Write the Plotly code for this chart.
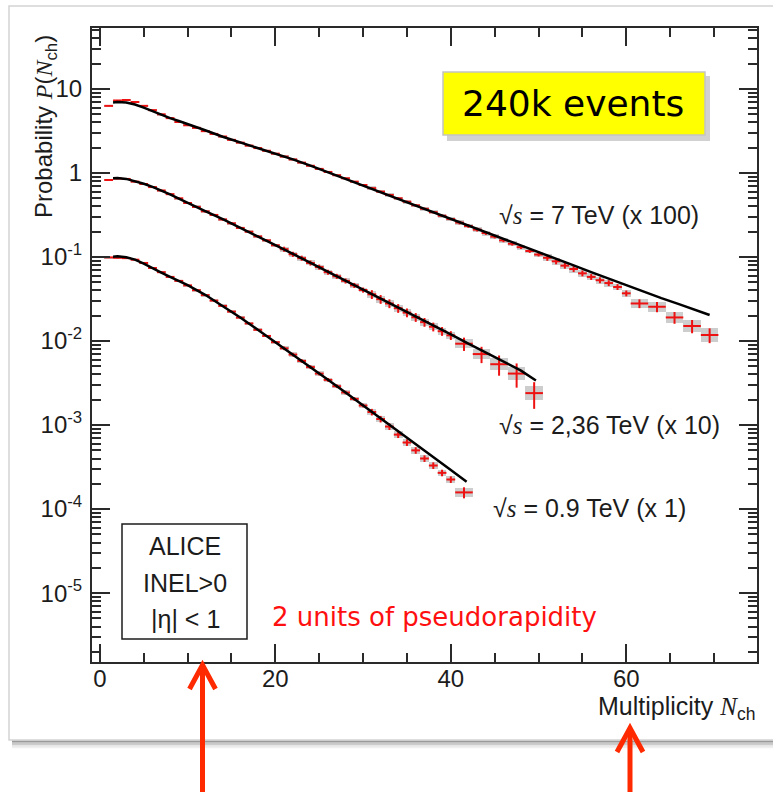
import plotly.graph_objects as go

# ---------------- data ----------------
# 7 TeV (x100)
N7 = list(range(1, 61)) + [61.5, 63.5, 65.5, 67.5, 69.5]
W7 = [1] * 60 + [2] * 5
P7 = [6.3, 7.3, 7.4, 7.0, 6.3, 5.6, 5.0, 4.5, 4.05, 3.7,
      3.45, 3.15, 2.92, 2.72, 2.48, 2.30, 2.12, 1.98, 1.84, 1.70,
      1.57, 1.45, 1.33, 1.22, 1.12, 1.03, 0.94, 0.865, 0.79, 0.72,
      0.66, 0.60, 0.548, 0.50, 0.455, 0.412, 0.375, 0.342, 0.31, 0.283,
      0.257, 0.234, 0.212, 0.193, 0.175, 0.158, 0.144, 0.131, 0.118, 0.107,
      0.098, 0.089, 0.079, 0.072, 0.064, 0.058, 0.053, 0.049, 0.044, 0.037,
      0.028, 0.0256, 0.0191, 0.0151, 0.0118]
STAT7 = [0.01, 0.01, 0.01, 0.01, 0.01, 0.01, 0.01, 0.01, 0.01, 0.01,
         0.01, 0.01, 0.01, 0.01, 0.01, 0.01, 0.01, 0.01, 0.01, 0.01,
         0.015, 0.015, 0.015, 0.015, 0.015, 0.015, 0.015, 0.015, 0.015, 0.015,
         0.03, 0.03, 0.03, 0.03, 0.03, 0.03, 0.03, 0.03, 0.03, 0.03,
         0.05, 0.05, 0.05, 0.05, 0.05, 0.05, 0.05, 0.05, 0.05, 0.05,
         0.08, 0.08, 0.08, 0.08, 0.08, 0.08, 0.08, 0.08, 0.08, 0.08,
         0.12, 0.14, 0.16, 0.18, 0.20]
SYS7 = [0.02, 0.02, 0.02, 0.02, 0.02, 0.02, 0.02, 0.02, 0.02, 0.02,
        0.02, 0.02, 0.02, 0.02, 0.02, 0.02, 0.02, 0.02, 0.02, 0.02,
        0.03, 0.03, 0.03, 0.03, 0.03, 0.03, 0.03, 0.03, 0.03, 0.03,
        0.05, 0.05, 0.05, 0.05, 0.05, 0.05, 0.05, 0.05, 0.05, 0.05,
        0.07, 0.07, 0.07, 0.07, 0.07, 0.07, 0.07, 0.07, 0.07, 0.07,
        0.10, 0.10, 0.10, 0.10, 0.10, 0.10, 0.10, 0.10, 0.10, 0.10,
        0.13, 0.15, 0.17, 0.19, 0.21]
FIT7_N = [1.5, 2, 3, 4, 5, 6, 7, 8, 9, 10, 12, 14, 16, 18, 20, 22, 24, 26, 28, 30,
          32, 34, 36, 38, 40, 42, 44, 46, 48, 50, 52, 54, 56, 58, 60, 62, 64, 66, 68, 69.5]
FIT7_P = [6.92, 7.0, 6.92, 6.53, 6.0, 5.43, 4.92, 4.5, 4.16, 3.85, 3.23, 2.70, 2.32, 2.0,
          1.71, 1.455, 1.227, 1.023, 0.855, 0.716, 0.598, 0.5, 0.417, 0.347, 0.288, 0.24,
          0.2, 0.166, 0.138, 0.115, 0.0955, 0.0794, 0.066, 0.055, 0.0457, 0.0385, 0.0324,
          0.0275, 0.0234, 0.0204]

# 2.36 TeV (x10)
N236 = list(range(1, 41)) + [41.5, 43.5, 45.5, 47.5, 49.5]
W236 = [1] * 40 + [2] * 5
P236 = [0.826, 0.86, 0.85, 0.79, 0.74, 0.68, 0.62, 0.56, 0.50, 0.44,
        0.395, 0.35, 0.317, 0.28, 0.252, 0.222, 0.20, 0.176, 0.158, 0.138,
        0.124, 0.108, 0.097, 0.085, 0.076, 0.066, 0.059, 0.052, 0.046, 0.0405,
        0.036, 0.0315, 0.028, 0.0246, 0.0218, 0.0192, 0.0168, 0.0148, 0.0131, 0.0117,
        0.0093, 0.0070, 0.0053, 0.0041, 0.0024]
STAT236 = [0.015, 0.015, 0.015, 0.015, 0.015, 0.015, 0.015, 0.015, 0.015, 0.015,
           0.03, 0.03, 0.03, 0.03, 0.03, 0.03, 0.03, 0.03, 0.03, 0.03,
           0.07, 0.07, 0.07, 0.07, 0.07, 0.07, 0.07, 0.07, 0.07, 0.07,
           0.12, 0.12, 0.12, 0.12, 0.12, 0.12, 0.12, 0.12, 0.12, 0.12,
           0.18, 0.22, 0.27, 0.32, 0.35]
SYS236 = [0.02, 0.02, 0.02, 0.02, 0.02, 0.02, 0.02, 0.02, 0.02, 0.02,
          0.04, 0.04, 0.04, 0.04, 0.04, 0.04, 0.04, 0.04, 0.04, 0.04,
          0.07, 0.07, 0.07, 0.07, 0.07, 0.07, 0.07, 0.07, 0.07, 0.07,
          0.10, 0.10, 0.10, 0.10, 0.10, 0.10, 0.10, 0.10, 0.10, 0.10,
          0.14, 0.16, 0.18, 0.20, 0.22]
FIT236_N = [1.5, 2, 3, 4, 5, 6, 7, 8, 9, 10, 12, 14, 16, 18, 20, 22, 24, 26, 28, 30,
            32, 34, 36, 38, 40, 42, 44, 46, 48, 49.7]
FIT236_P = [0.865, 0.871, 0.851, 0.804, 0.745, 0.684, 0.621, 0.556, 0.495, 0.44, 0.353,
            0.282, 0.224, 0.177, 0.139, 0.109, 0.0855, 0.0668, 0.0522, 0.0407, 0.0318,
            0.0249, 0.0195, 0.0153, 0.012, 0.00933, 0.0073, 0.00569, 0.00445, 0.0034]

# 0.9 TeV (x1)
N09 = list(range(1, 41)) + [41.5]
W09 = [1] * 40 + [2]
P09 = [0.099, 0.098, 0.097, 0.093, 0.085, 0.074, 0.066, 0.058, 0.052, 0.046,
       0.0403, 0.0352, 0.0303, 0.0262, 0.0224, 0.019, 0.0162, 0.0136, 0.0115, 0.0097,
       0.0082, 0.0069, 0.0058, 0.0049, 0.0041, 0.00345, 0.0029, 0.00244, 0.00205, 0.00171,
       0.00143, 0.00118, 0.00096, 0.00077, 0.00062, 0.0005, 0.0004, 0.00033, 0.00027, 0.000225,
       0.000158]
STAT09 = [0.015, 0.015, 0.015, 0.015, 0.015, 0.015, 0.015, 0.015, 0.015, 0.015,
          0.025, 0.025, 0.025, 0.025, 0.025, 0.025, 0.025, 0.025, 0.025, 0.025,
          0.05, 0.05, 0.05, 0.05, 0.05, 0.05, 0.05, 0.05, 0.05, 0.05,
          0.09, 0.09, 0.09, 0.09, 0.09, 0.09, 0.09, 0.09, 0.09, 0.09,
          0.15]
SYS09 = [0.02, 0.02, 0.02, 0.02, 0.02, 0.02, 0.02, 0.02, 0.02, 0.02,
         0.04, 0.04, 0.04, 0.04, 0.04, 0.04, 0.04, 0.04, 0.04, 0.04,
         0.06, 0.06, 0.06, 0.06, 0.06, 0.06, 0.06, 0.06, 0.06, 0.06,
         0.09, 0.09, 0.09, 0.09, 0.09, 0.09, 0.09, 0.09, 0.09, 0.09,
         0.13]
FIT09_N = [1.5, 2, 3, 4, 5, 6, 7, 8, 9, 10, 12, 14, 16, 18, 20, 22, 24, 26, 28, 30,
           32, 34, 36, 38, 40, 41.8]
FIT09_P = [0.101, 0.1023, 0.0995, 0.0933, 0.0832, 0.0733, 0.0653, 0.0582, 0.0519, 0.0462,
           0.0355, 0.0263, 0.0191, 0.01365, 0.00973, 0.00692, 0.0049, 0.00347, 0.00244,
           0.00172, 0.00121, 0.000849, 0.000596, 0.000417, 0.000292, 0.000211]

Y_TICKS = [10, 1, 0.1, 0.01, 0.001, 0.0001, 0.00001]
Y_TICKTEXT = ["10", "1", "10<sup>-1</sup>", "10<sup>-2</sup>", "10<sup>-3</sup>",
              "10<sup>-4</sup>", "10<sup>-5</sup>"]
X_TICKS = [0, 20, 40, 60]

SERIES = [
    (N7, W7, P7, STAT7, SYS7, FIT7_N, FIT7_P),
    (N236, W236, P236, STAT236, SYS236, FIT236_N, FIT236_P),
    (N09, W09, P09, STAT09, SYS09, FIT09_N, FIT09_P),
]

# ---------------- layout geometry ----------------
FW, FH = 773, 792
ML, MR, MT, MB = 92, 16, 28, 130
PW = FW - ML - MR
PH = FH - MT - MB


def X(px):
    return (px - ML) / PW


def Y(py):
    return (FH - MB - py) / PH


RED = "#ee1111"
GREY = "#cdcdcd"
TXT = "#1c1c1c"
SANS = "Liberation Sans, Arial, sans-serif"

fig = go.Figure()

for (n, w, p, st, sy, fn, fp) in SERIES:
    lo = [v / (1 + s) for v, s in zip(p, sy)]
    hi = [v * (1 + s) for v, s in zip(p, sy)]
    fig.add_trace(go.Bar(
        x=n, y=[h - l for h, l in zip(hi, lo)], base=lo, width=w,
        marker=dict(color=GREY, line=dict(width=0)), hoverinfo="skip", showlegend=False))

for (n, w, p, st, sy, fn, fp) in SERIES:
    fig.add_trace(go.Scatter(
        x=n, y=p, mode="markers",
        marker=dict(size=2, color="rgba(0,0,0,0)"),
        error_x=dict(type="data", array=[ww / 2 for ww in w], color=RED, thickness=2, width=0),
        error_y=dict(type="data", array=[v * s for v, s in zip(p, st)], color=RED,
                     thickness=2, width=0),
        showlegend=False, hoverinfo="skip"))

for (n, w, p, st, sy, fn, fp) in SERIES:
    fig.add_trace(go.Scatter(
        x=fn, y=fp, mode="lines", line=dict(color="black", width=2.5),
        showlegend=False, hoverinfo="skip"))

axis_common = dict(
    showline=True, linecolor="#2a2a2a", linewidth=2, mirror="allticks",
    ticks="inside", tickcolor="#2a2a2a", tickwidth=1.6, ticklen=18,
    showgrid=False, zeroline=False,
    tickfont=dict(family=SANS, size=24, color=TXT),
)

fig.update_xaxes(
    range=[-0.9, 74.9], tickmode="array", tickvals=X_TICKS,
    minor=dict(dtick=5, tick0=0, ticks="inside", ticklen=9, tickwidth=1.6,
               tickcolor="#2a2a2a", showgrid=False),
    ticklabelstandoff=-6,
    **axis_common)

fig.update_yaxes(
    type="log", range=[-5.82, 1.726], tickmode="array", tickvals=Y_TICKS,
    ticktext=Y_TICKTEXT,
    minor=dict(dtick="D1", ticks="inside", ticklen=9, tickwidth=1.6,
               tickcolor="#2a2a2a", showgrid=False),
    ticklabelstandoff=3,
    **axis_common)

shapes = []
# slide panel border and bottom shadow
shapes.append(dict(type="rect", xref="paper", yref="paper",
                   x0=X(9), x1=X(800), y0=Y(740), y1=Y(6),
                   line=dict(color="#d4d4d4", width=1.5), fillcolor="rgba(0,0,0,0)",
                   layer="below"))
for off, col in [(1.5, "#9a9a9a"), (3.0, "#b4b4b4"), (4.5, "#cccccc"), (6.0, "#e2e2e2"),
                 (7.5, "#f0f0f0")]:
    shapes.append(dict(type="line", xref="paper", yref="paper",
                       x0=X(12), x1=X(800), y0=Y(740 + off), y1=Y(740 + off),
                       line=dict(color=col, width=1.6)))
# yellow "240k events" box with shadow
shapes.append(dict(type="rect", xref="paper", yref="paper",
                   x0=X(447), x1=X(710), y0=Y(141), y1=Y(76),
                   line=dict(width=0), fillcolor="rgba(0,0,0,0.18)"))
shapes.append(dict(type="rect", xref="paper", yref="paper",
                   x0=X(443), x1=X(705), y0=Y(135), y1=Y(72),
                   line=dict(color="#c4c4c4", width=1.5), fillcolor="#ffff00"))
# ALICE box
shapes.append(dict(type="rect", xref="paper", yref="paper",
                   x0=X(122), x1=X(247), y0=Y(639), y1=Y(524),
                   line=dict(color="#1c1c1c", width=1.5), fillcolor="white"))
# red arrows
ARROW = "#ff2a00"
for (ax, tip, bottom) in [(202.5, 665, 800), (630, 728, 800)]:
    shapes.append(dict(type="line", xref="paper", yref="paper",
                       x0=X(ax), x1=X(ax), y0=Y(tip + 3), y1=Y(bottom),
                       line=dict(color=ARROW, width=5)))
    shapes.append(dict(type="path", xref="paper", yref="paper",
                       path="M {:.5f},{:.5f} L {:.5f},{:.5f} L {:.5f},{:.5f}".format(
                           X(ax - 13), Y(tip + 24), X(ax), Y(tip), X(ax + 13), Y(tip + 24)),
                       line=dict(color=ARROW, width=5)))

ann = []


def add_text(text, px, py, size, xanchor="left", color=TXT, family=SANS, angle=0):
    ann.append(dict(text=text, x=X(px), y=Y(py), xref="paper", yref="paper",
                    xanchor=xanchor, yanchor="middle", showarrow=False, textangle=angle,
                    font=dict(family=family, size=size, color=color)))


it = "<span style='font-family:Liberation Serif'><i>{}</i></span>"
add_text("Probability " + it.format("P") + "(" + it.format("N") + "<sub>ch</sub>)",
         45, 127, 24, xanchor="center", angle=-90)
add_text("Multiplicity " + it.format("N") + "<sub>ch</sub>", 757, 708, 25, xanchor="right")
add_text("240k events", 573, 103.5, 36, xanchor="center", color="black",
         family="DejaVu Sans, sans-serif")
add_text("√" + it.format("s") + " = 7 TeV (x 100)", 497, 215, 25)
add_text("√" + it.format("s") + " = 2,36 TeV (x 10)", 497, 425, 25)
add_text("√" + it.format("s") + " = 0.9 TeV (x 1)", 491, 508, 25)
add_text("ALICE", 185, 546, 25, xanchor="center")
add_text("INEL>0", 185, 583, 25, xanchor="center")
add_text("|η| < 1", 185, 619, 25, xanchor="center")
add_text("2 units of pseudorapidity", 270, 617, 26, color="#ff1010",
         family="DejaVu Sans, sans-serif")

fig.update_layout(
    width=FW, height=FH,
    margin=dict(l=ML, r=MR, t=MT, b=MB, pad=0),
    paper_bgcolor="white", plot_bgcolor="white",
    barmode="overlay", bargap=0,
    showlegend=False,
    shapes=shapes, annotations=ann,
)

fig.write_html("out.html")
